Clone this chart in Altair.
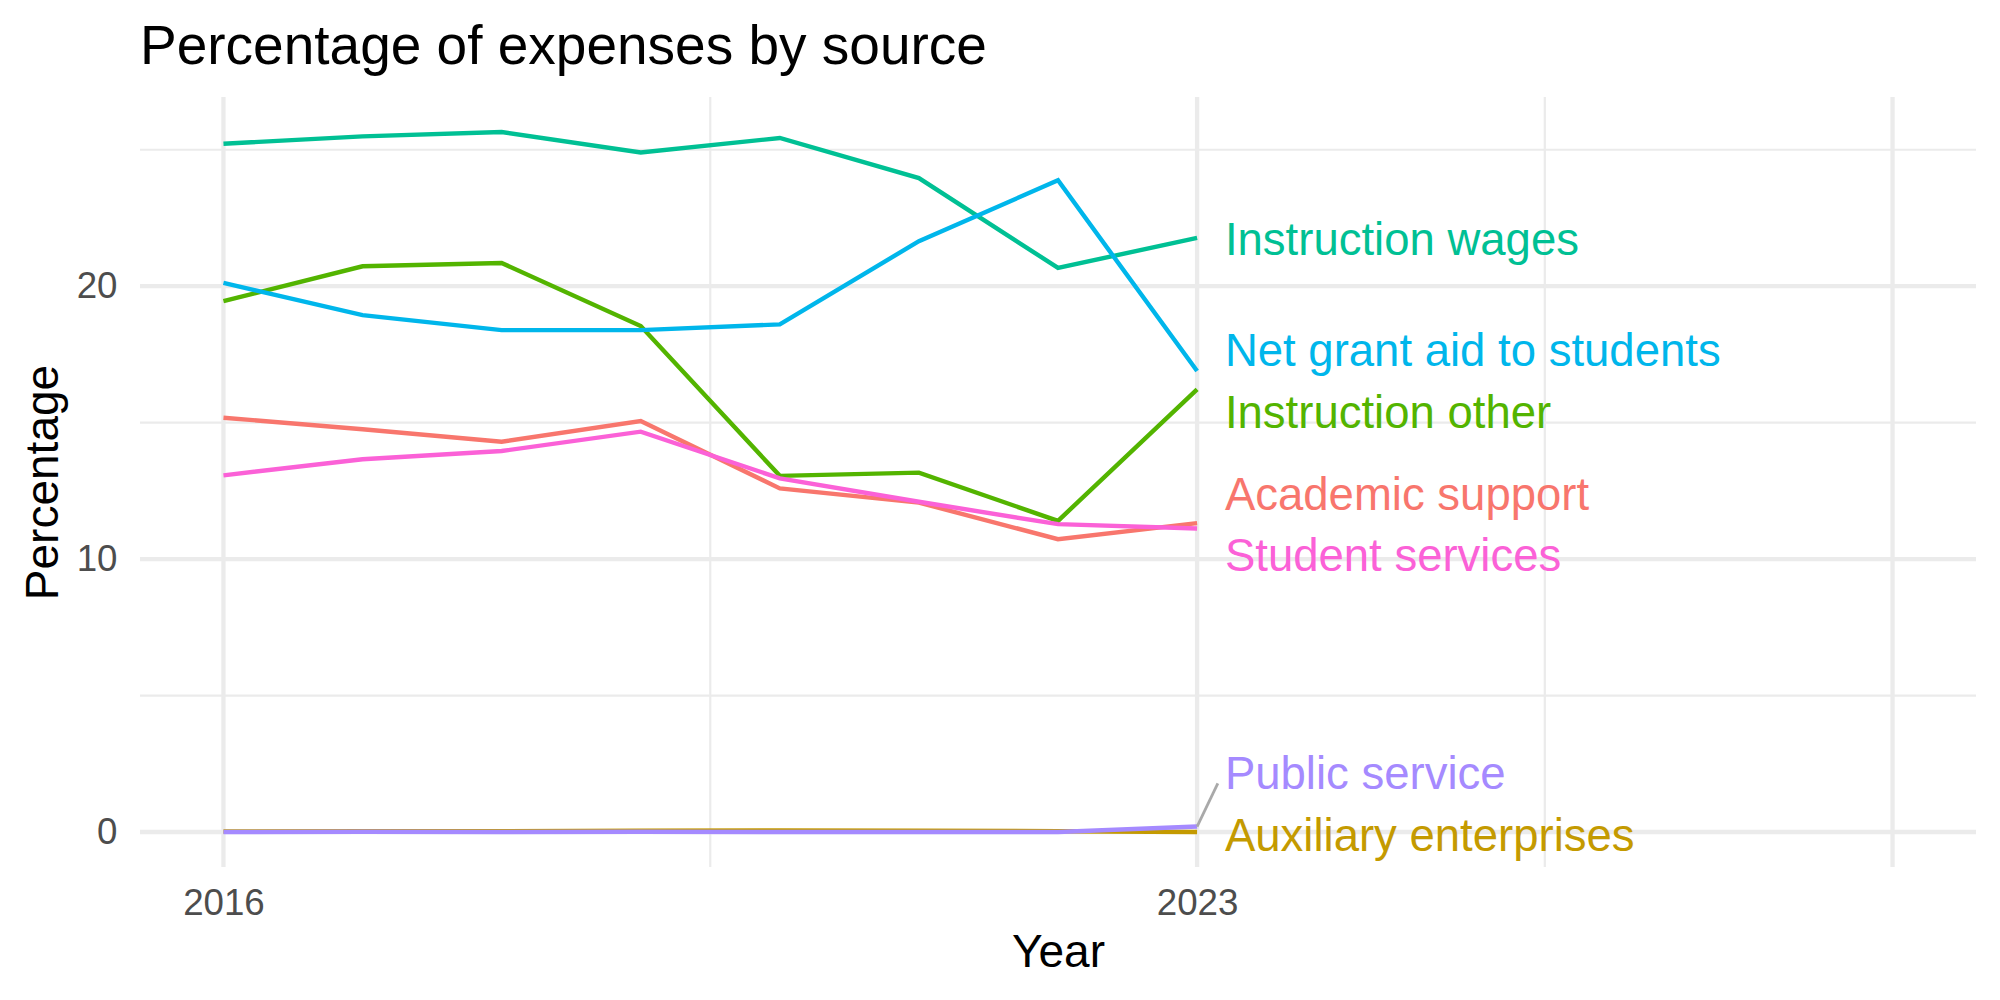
import altair as alt
import pandas as pd

# ---- data -------------------------------------------------------------
years = [2016, 2017, 2018, 2019, 2020, 2021, 2022, 2023]

categories = [
    "Academic support",
    "Auxiliary enterprises",
    "Instruction other",
    "Instruction wages",
    "Net grant aid to students",
    "Public service",
    "Student services",
]

academic_support = [15.18, 14.76, 14.30, 15.06, 12.59, 12.07, 10.73, 11.32]
auxiliary_enterprises = [0.02, 0.03, 0.03, 0.05, 0.06, 0.05, 0.03, 0.00]
instruction_other = [19.45, 20.73, 20.85, 18.54, 13.05, 13.17, 11.40, 16.22]
instruction_wages = [25.22, 25.49, 25.65, 24.90, 25.43, 23.96, 20.67, 21.77]
net_grant_aid = [20.12, 18.94, 18.39, 18.39, 18.60, 21.65, 23.88, 16.89]
public_service = [0.00, 0.01, 0.00, 0.01, 0.00, 0.00, 0.00, 0.20]
student_services = [13.07, 13.66, 13.96, 14.67, 12.96, 12.10, 11.28, 11.12]

series = [
    academic_support,
    auxiliary_enterprises,
    instruction_other,
    instruction_wages,
    net_grant_aid,
    public_service,
    student_services,
]

palette = ["#F8766D", "#C49A00", "#53B400", "#00C094", "#00B6EB", "#A58AFF", "#FB61D7"]

# repelled label anchors (data units), one per category
label_year = 2023.2
label_value = [11.81, -0.68, 14.80, 21.16, 17.06, 1.57, 9.58]

# connector drawn for the label that was pushed away from its line end
connector_from = (2023.0, 0.20)
connector_to = (2023.149, 1.78)

# axis breaks
x_major = [2016, 2023, 2028]
x_minor = [2019.5, 2025.5]
y_major = [0, 10, 20]
y_minor = [5, 15, 25]
x_labels = [2016, 2023]

# ---- tables -----------------------------------------------------------
rows = []
for order, (cat, vals) in enumerate(zip(categories, series)):
    for yr, v in zip(years, vals):
        rows.append({"Year": yr, "Percentage": v, "Source": cat, "order": order})
lines_df = pd.DataFrame(rows)

labels_df = pd.DataFrame(
    {"Source": categories, "Year": [label_year] * len(categories), "Percentage": label_value}
)
seg_df = pd.DataFrame(
    [{"Year": connector_from[0], "Percentage": connector_from[1],
      "Year2": connector_to[0], "Percentage2": connector_to[1]}]
)

FONT = "Liberation Sans"
GRID = "#EBEBEB"

x_scale = alt.Scale(domain=[2015.4, 2028.6], nice=False, zero=False)
y_scale = alt.Scale(domain=[-1.2825, 26.9325], nice=False, zero=False)
color_scale = alt.Scale(domain=categories, range=palette)

x_axis = alt.Axis(
    values=x_labels,
    format="d",
    grid=False,
    ticks=False,
    domain=False,
    labelFont=FONT,
    labelFontSize=36.7,
    labelColor="#4D4D4D",
    labelPadding=18,
    title="Year",
    titleFont=FONT,
    titleFontSize=46,
    titleFontWeight="normal",
    titleColor="black",
    titleBaseline="alphabetic",
    titleAlign="center",
    titleX=918,
    titleY=99,
)
y_axis = alt.Axis(
    values=y_major,
    grid=False,
    ticks=False,
    domain=False,
    labelFont=FONT,
    labelFontSize=36.7,
    labelColor="#4D4D4D",
    labelPadding=23,
    title="Percentage",
    titleFont=FONT,
    titleFontSize=46,
    titleFontWeight="normal",
    titleColor="black",
    titleBaseline="alphabetic",
    titleAlign="center",
    titleAngle=270,
    titleX=-83,
    titleY=385,
)


def xq(field):
    return alt.X(field, type="quantitative", scale=x_scale, axis=x_axis)


def yq(field):
    return alt.Y(field, type="quantitative", scale=y_scale, axis=y_axis)


# ---- gridlines --------------------------------------------------------
vmajor = alt.Chart(pd.DataFrame({"Year": x_major})).mark_rule(
    color=GRID, strokeWidth=4.3
).encode(x=xq("Year"))
vminor = alt.Chart(pd.DataFrame({"Year": x_minor})).mark_rule(
    color=GRID, strokeWidth=2.2
).encode(x=xq("Year"))
hmajor = alt.Chart(pd.DataFrame({"Percentage": y_major})).mark_rule(
    color=GRID, strokeWidth=4.3
).encode(y=yq("Percentage"))
hminor = alt.Chart(pd.DataFrame({"Percentage": y_minor})).mark_rule(
    color=GRID, strokeWidth=2.2
).encode(y=yq("Percentage"))

# ---- series lines -----------------------------------------------------
lines = alt.Chart(lines_df).mark_line(strokeWidth=4.4).encode(
    x=xq("Year"),
    y=yq("Percentage"),
    color=alt.Color("Source:N", scale=color_scale, legend=None),
    order=alt.Order("order:Q"),
    detail="Source:N",
)

connector = alt.Chart(seg_df).mark_rule(color="#A9A9A9", strokeWidth=2.8).encode(
    x=xq("Year"),
    y=yq("Percentage"),
    x2="Year2:Q",
    y2="Percentage2:Q",
)

labels = alt.Chart(labels_df).mark_text(
    align="left", baseline="alphabetic", font=FONT, fontSize=45.5
).encode(
    x=xq("Year"),
    y=yq("Percentage"),
    text="Source:N",
    color=alt.Color("Source:N", scale=color_scale, legend=None),
)

chart = (
    alt.layer(hminor, hmajor, vminor, vmajor, lines, connector, labels)
    .properties(
        width=1836,
        height=770,
        autosize=alt.AutoSizeParams(type="none"),
        padding={"left": 140, "top": 97, "right": 24, "bottom": 133},
        background="white",
        title=alt.TitleParams(
            text="Percentage of expenses by source",
            anchor="start",
            frame="group",
            font=FONT,
            fontSize=55,
            fontWeight="normal",
            color="black",
            baseline="alphabetic",
            offset=-24,
        ),
    )
    .configure_view(stroke=None)
)

chart.save("out.html", embed_options={"renderer": "svg", "actions": False})
